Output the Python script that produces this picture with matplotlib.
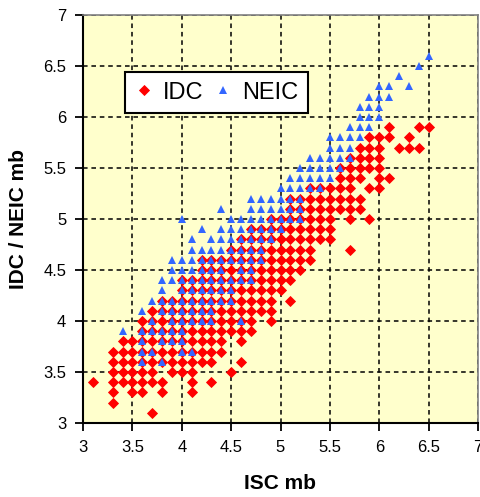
import matplotlib.pyplot as plt

# IDC mb readings, grouped by ISC mb column
idc_cols = [
    (3.1, [3.4]),
    (3.3, [3.2, 3.3, 3.4, 3.5, 3.6, 3.7]),
    (3.4, [3.4, 3.5, 3.6, 3.7, 3.8]),
    (3.5, [3.3, 3.4, 3.5, 3.6, 3.7, 3.8]),
    (3.6, [3.3, 3.4, 3.5, 3.6, 3.7, 3.8, 3.9, 4.0]),
    (3.7, [3.1, 3.4, 3.5, 3.6, 3.7, 3.8, 3.9, 4.0, 4.1]),
    (3.8, [3.3, 3.4, 3.6, 3.7, 3.8, 3.9, 4.0, 4.1, 4.2]),
    (3.9, [3.5, 3.6, 3.7, 3.8, 3.9, 4.0, 4.1, 4.2]),
    (4.0, [3.5, 3.6, 3.7, 3.8, 3.9, 4.0, 4.1, 4.2, 4.3, 4.4]),
    (4.1, [3.3, 3.4, 3.5, 3.6, 3.7, 3.8, 3.9, 4.0, 4.1, 4.2, 4.3, 4.4]),
    (4.2, [3.6, 3.7, 3.8, 3.9, 4.0, 4.1, 4.2, 4.3, 4.4, 4.5, 4.6]),
    (4.3, [3.4, 3.6, 3.7, 3.8, 3.9, 4.0, 4.1, 4.2, 4.3, 4.4, 4.5, 4.6]),
    (4.4, [3.7, 3.8, 3.9, 4.0, 4.1, 4.2, 4.3, 4.4, 4.5, 4.6]),
    (4.5, [3.5, 3.9, 4.0, 4.1, 4.2, 4.3, 4.4, 4.5, 4.6, 4.7]),
    (4.6, [3.6, 3.8, 3.9, 4.0, 4.1, 4.2, 4.3, 4.4, 4.5, 4.6, 4.7, 4.8]),
    (4.7, [3.9, 4.0, 4.1, 4.2, 4.3, 4.4, 4.5, 4.6, 4.7, 4.8, 4.9]),
    (4.8, [4.1, 4.2, 4.3, 4.4, 4.5, 4.6, 4.7, 4.8, 4.9]),
    (4.9, [4.0, 4.1, 4.2, 4.3, 4.4, 4.5, 4.6, 4.7, 4.8, 4.9, 5.0]),
    (5.0, [4.3, 4.4, 4.5, 4.6, 4.7, 4.8, 4.9, 5.0]),
    (5.1, [4.2, 4.4, 4.5, 4.6, 4.7, 4.8, 4.9, 5.0, 5.1, 5.2]),
    (5.2, [4.5, 4.6, 4.7, 4.8, 4.9, 5.0, 5.1, 5.2]),
    (5.3, [4.6, 4.7, 4.8, 4.9, 5.0, 5.1, 5.2, 5.3]),
    (5.4, [4.8, 4.9, 5.0, 5.1, 5.2, 5.3]),
    (5.5, [4.8, 4.9, 5.0, 5.1, 5.2, 5.3]),
    (5.6, [5.1, 5.2, 5.3, 5.4, 5.5]),
    (5.7, [4.7, 5.0, 5.1, 5.2, 5.3, 5.4, 5.5, 5.6]),
    (5.8, [5.1, 5.2, 5.4, 5.5, 5.6, 5.7]),
    (5.9, [5.0, 5.3, 5.5, 5.6, 5.7, 5.8]),
    (6.0, [5.3, 5.4, 5.5, 5.6, 5.7, 5.8]),
    (6.1, [5.4, 5.8, 5.9]),
    (6.2, [5.7]),
    (6.3, [5.7, 5.8]),
    (6.4, [5.7, 5.9]),
    (6.5, [5.9]),
]

# NEIC mb readings, grouped by ISC mb column
neic_cols = [
    (3.4, [3.9]),
    (3.6, [3.6, 3.7, 3.8, 3.9, 4.1]),
    (3.7, [3.7, 3.9, 4.0, 4.2]),
    (3.8, [3.6, 3.8, 3.9, 4.1, 4.2, 4.3, 4.4]),
    (3.9, [3.8, 3.9, 4.0, 4.1, 4.2, 4.4, 4.5, 4.6]),
    (4.0, [3.7, 3.8, 3.9, 4.0, 4.1, 4.2, 4.3, 4.4, 4.5, 4.6, 5.0]),
    (4.1, [3.7, 4.0, 4.1, 4.2, 4.3, 4.4, 4.5, 4.6, 4.7, 4.8]),
    (4.2, [4.0, 4.1, 4.2, 4.3, 4.4, 4.5, 4.6, 4.7, 4.9]),
    (4.3, [4.0, 4.1, 4.2, 4.3, 4.4, 4.5, 4.6, 4.7, 4.8]),
    (4.4, [4.2, 4.3, 4.4, 4.5, 4.6, 4.7, 4.8, 4.9, 5.1]),
    (4.5, [4.2, 4.3, 4.4, 4.6, 4.7, 4.8, 4.9, 5.0]),
    (4.6, [4.0, 4.4, 4.5, 4.6, 4.7, 4.8, 4.9, 5.0]),
    (4.7, [4.4, 4.5, 4.6, 4.7, 4.8, 4.9, 5.0, 5.1, 5.2]),
    (4.8, [4.6, 4.7, 4.8, 4.9, 5.0, 5.1, 5.2]),
    (4.9, [4.8, 4.9, 5.0, 5.1, 5.2]),
    (5.0, [4.9, 5.0, 5.1, 5.2, 5.3]),
    (5.1, [5.0, 5.1, 5.2, 5.3, 5.4]),
    (5.2, [5.0, 5.1, 5.2, 5.3, 5.4, 5.5]),
    (5.3, [5.3, 5.4, 5.5, 5.6]),
    (5.4, [5.3, 5.4, 5.5, 5.6]),
    (5.5, [5.4, 5.5, 5.6, 5.7, 5.8]),
    (5.6, [5.5, 5.6, 5.7, 5.8]),
    (5.7, [5.6, 5.7, 5.8, 5.9]),
    (5.8, [5.8, 5.9, 6.0, 6.1]),
    (5.9, [5.9, 6.0, 6.1, 6.2]),
    (6.0, [6.0, 6.1, 6.2, 6.3]),
    (6.1, [6.2, 6.3]),
    (6.2, [6.4]),
    (6.3, [6.3]),
    (6.4, [6.5]),
    (6.5, [6.6]),
]

ticks = [3, 3.5, 4, 4.5, 5, 5.5, 6, 6.5, 7]
tick_labels = ["3", "3.5", "4", "4.5", "5", "5.5", "6", "6.5", "7"]


def expand(cols):
    xs, ys = [], []
    for isc, vals in cols:
        for v in vals:
            xs.append(isc)
            ys.append(v)
    return xs, ys


idc_x, idc_y = expand(idc_cols)
neic_x, neic_y = expand(neic_cols)

plt.rcParams['font.family'] = ['Liberation Sans', 'DejaVu Sans']

fig = plt.figure(figsize=(4.8, 4.97), dpi=100)
ax = fig.add_axes([83 / 480, 1 - 423 / 497, 395 / 480, 408 / 497])
ax.set_facecolor('#FFFFCC')

ax.plot(idc_x, idc_y, linestyle='none', marker='D', markersize=4.6,
        color='#FF0000', markeredgewidth=0.6, label='IDC', zorder=3)
ax.plot(neic_x, neic_y, linestyle='none', marker='^', markersize=5.4,
        color='#3366FF', markeredgewidth=0, label='NEIC', zorder=4)

ax.set_xlim(3, 7)
ax.set_ylim(3, 7)
ax.set_xticks(ticks)
ax.set_xticklabels(tick_labels)
ax.set_yticks(ticks)
ax.set_yticklabels(tick_labels)
ax.grid(True, color='black', linestyle=(0, (3, 2.5)), linewidth=1.1)
ax.set_axisbelow(True)

ax.tick_params(direction='out', length=6, width=1.3, labelsize=12, pad=6,
               colors='black')
for side in ['left', 'bottom']:
    ax.spines[side].set_linewidth(1.5)
    ax.spines[side].set_color('black')
for side in ['top', 'right']:
    ax.spines[side].set_linewidth(1.2)
    ax.spines[side].set_color('#808080')

ax.set_xlabel('ISC mb', fontsize=15, fontweight='bold')
ax.set_ylabel('IDC / NEIC mb', fontsize=15, fontweight='bold')
ax.xaxis.set_label_coords(0.5, -0.125)
ax.yaxis.set_label_coords(-0.14, 0.5)

leg = ax.legend(loc='upper left', bbox_to_anchor=(0.106, 0.860), ncol=2,
                fontsize=17, frameon=True, fancybox=False, framealpha=1,
                edgecolor='black', handlelength=0.8, handletextpad=0.4,
                columnspacing=0.45, borderpad=0.4, borderaxespad=0)
leg.get_frame().set_linewidth(1.5)

fig.savefig('out.png', dpi=100)
